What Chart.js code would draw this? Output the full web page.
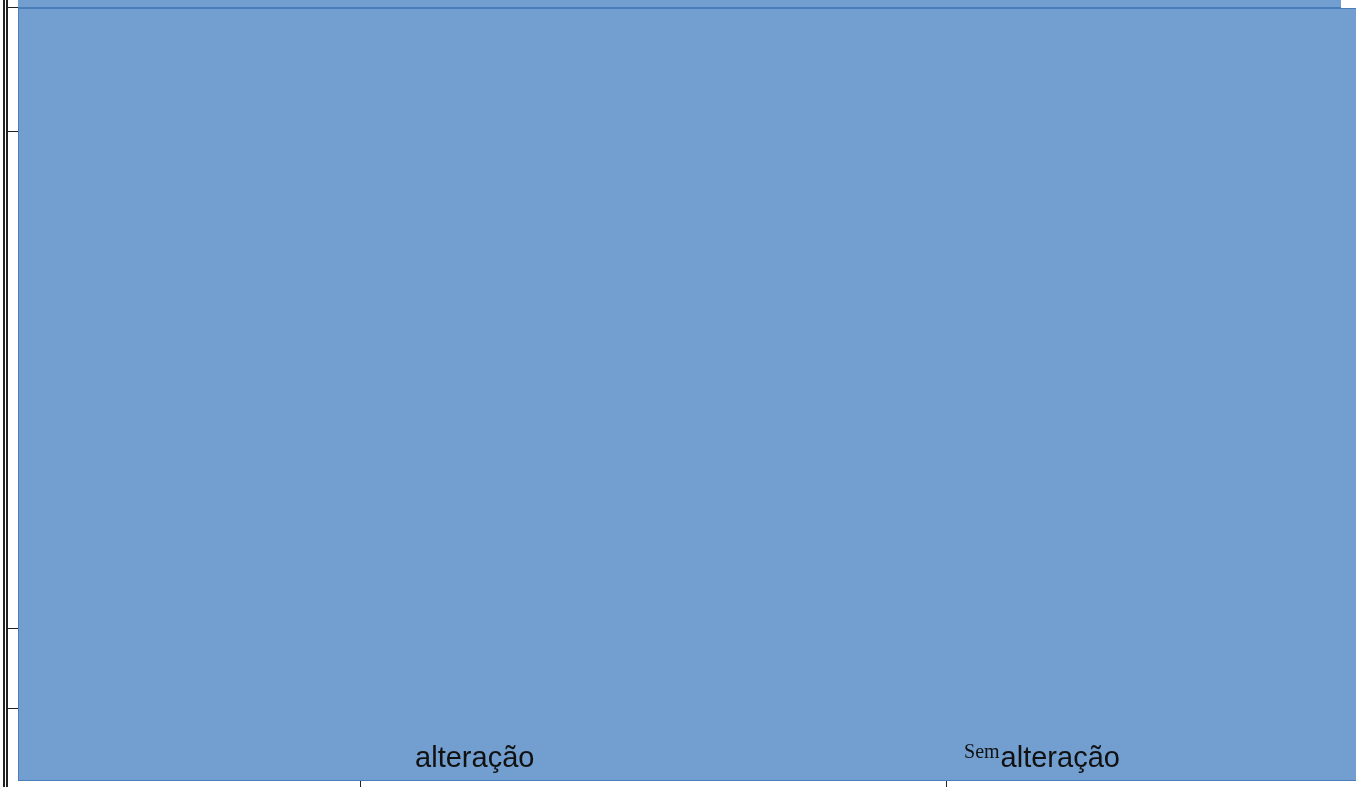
<!DOCTYPE html>
<html>
<head>
<meta charset="utf-8">
<script src="https://cdn.jsdelivr.net/npm/chart.js@4"></script>
<style>
  html, body { margin: 0; padding: 0; background: #fff; overflow: hidden; }
  body { width: 1356px; height: 787px; position: relative; }
  .linha { position: absolute; background: #222; }
  #faixa { position: absolute; left: 18px; top: 0; width: 1323px; height: 7px;
           background: #729fcf; border-bottom: 1px solid #4a7ebb; }
  #caixa { position: absolute; left: 18px; top: 8px; width: 1340px; height: 771px;
           background: #729fcf; border: 1px solid #4a7ebb; }
  #grafico { display: block; }
</style>
</head>
<body>
<!-- restos do documento digitalizado por trás -->
<div class="linha" style="left:3px;top:0;width:2px;height:787px"></div>
<div class="linha" style="left:6px;top:0;width:2px;height:787px"></div>
<div class="linha" style="left:8px;top:7px;width:10px;height:1px"></div>
<div class="linha" style="left:8px;top:131px;width:10px;height:1px"></div>
<div class="linha" style="left:8px;top:628px;width:10px;height:1px"></div>
<div class="linha" style="left:8px;top:708px;width:10px;height:1px"></div>
<div class="linha" style="left:360px;top:781px;width:1px;height:6px"></div>
<div class="linha" style="left:946px;top:781px;width:1px;height:6px"></div>

<div id="faixa"></div>
<div id="caixa"><canvas id="grafico" width="1340" height="771"></canvas></div>

<script>
const categorias = ['alteração', 'Sem alteração'];
const valores = [100, 100];
const escalaMax = 100;

const corBarra = '#729fcf';

// "Sem" aparece numa fonte serifada menor, antes do rótulo
const prefixoSerif = {
    id: 'prefixoSerif',
    afterDraw(chart) {
        const ctx = chart.ctx;
        const eixoX = chart.scales.x;
        ctx.save();
        ctx.fillStyle = '#111';
        ctx.textBaseline = 'alphabetic';
        categorias.forEach((cat, i) => {
            if (!cat.startsWith('Sem ')) return;
            ctx.font = '29px "Liberation Sans"';
            const largura = ctx.measureText(cat.slice(4)).width;
            ctx.font = '20px "Liberation Serif"';
            const x = eixoX.getPixelForValue(i) - largura / 2 - 1;
            ctx.textAlign = 'right';
            ctx.fillText('Sem', x, 749);
        });
        ctx.restore();
    }
};

const graficoBarras = new Chart(document.getElementById('grafico'), {
    type: 'bar',
    data: {
        labels: categorias,
        datasets: [{
            label: 'Série 1',
            data: valores,
            backgroundColor: corBarra,
            borderWidth: 0,
            barPercentage: 1,
            categoryPercentage: 1
        }]
    },
    options: {
        responsive: false,
        animation: false,
        layout: { padding: { left: 163, right: 6, top: 0, bottom: 4 } },
        plugins: {
            legend: { display: false },
            tooltip: { enabled: false }
        },
        scales: {
            x: {
                grid: { display: false },
                border: { display: false },
                ticks: {
                    color: '#111',
                    font: { family: '"Liberation Sans"', size: 29 },
                    maxRotation: 0,
                    padding: 0,
                    callback: function (valor) {
                        const txt = this.getLabelForValue(valor);
                        return txt.startsWith('Sem ') ? txt.slice(4) : txt;
                    }
                }
            },
            y: {
                display: false,
                min: 0,
                max: escalaMax
            }
        }
    },
    plugins: [prefixoSerif]
});
</script>
</body>
</html>
